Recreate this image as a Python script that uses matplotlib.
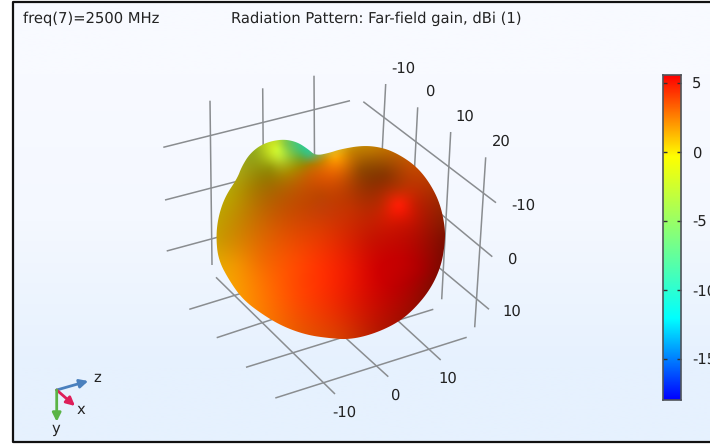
import numpy as np
import matplotlib
matplotlib.use("Agg")
import matplotlib.pyplot as plt
from matplotlib.colors import LinearSegmentedColormap
from matplotlib.patches import PathPatch
from matplotlib.path import Path

W, H = 710, 446
FS = 10.6

# colour scale, dBi
gain_min, gain_max = -18.0, 5.56
gain_ticks = [5, 0, -5, -10, -15]
rainbow = ["#0000ff", "#00ffff", "#80ff80", "#ffff00", "#ff0000"]

# box grid lines, picture pixels (x0, y0, x1, y1)
wall_left = [(210, 100.7, 212, 265), (262.7, 88.3, 264, 250), (314, 75.7, 315, 240),
             (163.3, 147.3, 350, 100.7), (165, 200, 300, 165), (166.7, 251, 300, 215)]
wall_right = [(385.7, 84, 377, 250), (417.7, 107.3, 409, 275), (450.7, 132, 441.7, 299.3),
              (485.7, 157.3, 474.7, 327.3), (363.3, 101.7, 496, 202.7),
              (400, 180, 492.3, 256.7), (400, 235, 489, 309.3)]
floor = [(216, 277.3, 335, 394), (260, 260, 388.3, 376.7), (310, 240, 440.7, 360),
         (189.3, 309.3, 330, 266), (216.7, 337.7, 380, 284),
         (246, 367.3, 433.3, 309.3), (275.3, 398, 466.7, 337.3)]

# axis numbers
box_labels = ["-10", "0", "10", "20", "-10", "0", "10", "-10", "0", "10"]
box_label_x = [403, 430, 465, 501, 523, 512, 512, 344, 395, 448]
box_label_y = [69, 92, 117, 142, 206, 260, 312, 413, 396, 379]

# silhouette of the pattern
outline_x = [237.3, 241.7, 250, 263.3, 281.7, 296.7, 308.3, 315.7, 330, 340, 363.3, 383.3,
             400, 416.7, 430, 440, 445, 445, 441, 430, 413.3, 396.7, 373.3, 350, 330,
             306.7, 283.3, 263.3, 243.3, 230, 218.3, 216, 218.3, 225]
outline_y = [178.3, 166.7, 153.3, 143.3, 139, 141.7, 149.3, 155.7, 152.7, 149.3, 145.3, 147.7,
             155, 166.7, 183.3, 203.3, 226.7, 243.3, 266.7, 290, 310, 323.3, 334, 339.5, 338.3,
             335, 326.7, 315, 300, 281.7, 260, 236.7, 216.7, 196.7]

# surface colours read at some places of the pattern
surf_x = [240, 255, 276, 277, 279, 285, 295, 308, 300, 270, 310, 335, 325, 350, 370,
          385, 385, 360, 410, 398, 415, 380, 398, 398, 440, 430, 445, 420, 400, 380,
          350, 320, 290, 260, 235, 222, 232, 250, 280, 320, 350, 370, 320, 270, 240,
          265, 300, 340, 375, 410, 350, 300, 430, 435]
surf_y = [170, 150, 143, 150, 158, 145, 150, 155, 158, 168, 165, 157, 160, 153, 150,
          150, 175, 170, 170, 205, 205, 205, 225, 188, 225, 250, 240, 270, 260, 270,
          270, 270, 260, 260, 265, 240, 200, 190, 190, 195, 210, 240, 230, 230, 290,
          315, 330, 337, 330, 305, 305, 295, 285, 190]
surf_r = [165, 150, 195, 205, 190, 130, 90, 60, 110, 150, 175, 250, 210, 200, 190,
          190, 140, 150, 190, 255, 195, 190, 205, 180, 140, 150, 125, 170, 195, 205,
          235, 255, 250, 240, 240, 205, 185, 170, 175, 190, 195, 200, 220, 215, 250,
          250, 235, 215, 185, 160, 225, 255, 135, 170]
surf_g = [165, 175, 225, 250, 225, 200, 195, 190, 170, 150, 125, 170, 140, 130, 120,
          110, 55, 75, 70, 30, 30, 40, 20, 50, 25, 10, 15, 0, 0, 0,
          25, 50, 80, 110, 150, 150, 155, 130, 100, 70, 50, 20, 60, 95, 150,
          120, 85, 60, 25, 10, 30, 70, 10, 50]
surf_b = [20, 30, 40, 50, 50, 70, 100, 130, 50, 10, 0, 10, 5, 0, 0,
          0, 0, 0, 0, 5, 0, 0, 0, 0, 0, 0, 0, 0, 0, 0,
          0, 0, 0, 0, 0, 0, 0, 0, 0, 0, 0, 0, 0, 0, 0,
          0, 0, 0, 0, 0, 0, 0, 0, 0]

# little x y z triad
triad_origin = (56.7, 390)
triad_tips = [(88.3, 381), (75, 406), (56.7, 421.7)]
triad_colors = ["#4a80be", "#de1e5a", "#5ab446"]
triad_names = ["z", "x", "y"]
triad_name_xy = [(97, 378), (81, 410), (56, 429)]


def smooth_closed(x, y, n=3):
    # corner cutting so the outline does not look like a polygon
    pts = np.column_stack([x, y])
    for i in range(n):
        nxt = np.roll(pts, -1, axis=0)
        pts = np.column_stack([0.75 * pts + 0.25 * nxt, 0.25 * pts + 0.75 * nxt]).reshape(-1, 2)
    return pts


def tps_kernel(d2):
    return 0.5 * d2 * np.log(d2 + 1e-9)


def spread_colours(xx, yy, px, py, rgb):
    # thin plate spline through the read colours, keeps the shading smooth
    n = len(px)
    d2 = (px[:, None] - px) ** 2 + (py[:, None] - py) ** 2
    P = np.column_stack([np.ones(n), px, py])
    A = np.zeros((n + 3, n + 3))
    A[:n, :n] = tps_kernel(d2) + 30.0 * np.eye(n)
    A[:n, n:] = P
    A[n:, :n] = P.T
    b = np.vstack([rgb, np.zeros((3, 3))])
    coef = np.linalg.solve(A, b)
    g2 = (xx[..., None] - px) ** 2 + (yy[..., None] - py) ** 2
    out = tps_kernel(g2) @ coef[:n]
    out += coef[n] + xx[..., None] * coef[n + 1] + yy[..., None] * coef[n + 2]
    return np.clip(out, 0, 1)


plt.rcParams["font.family"] = "DejaVu Sans"
plt.rcParams["text.hinting"] = "no_hinting"
fig = plt.figure(figsize=(W / 100, H / 100), dpi=100)
ax = fig.add_axes([0, 0, 1, 1])

# pale blue background
back = np.array([[[248, 250, 255]], [[244, 248, 255]], [[230, 241, 254]]], dtype=float) / 255
ax.imshow(back, extent=(12, W, 441, 1), aspect="auto", interpolation="bilinear", zorder=0)
ax.plot([W + 5, 12.5, 12.5, W + 5], [1.5, 1.5, 441.5, 441.5], color="#111111", lw=1.6, zorder=1)

for x0, y0, x1, y1 in wall_left + wall_right + floor:
    ax.plot([x0, x1], [y0, y1], color="#8a8d90", lw=1.1, zorder=2, solid_capstyle="butt")

for s, x, y in zip(box_labels, box_label_x, box_label_y):
    ax.text(x, y, s, ha="center", va="center", fontsize=FS, color="#222222", zorder=5)

# pattern: colours spread from the read places, clipped to the outline
xx, yy = np.meshgrid(np.arange(210.0, 451.0), np.arange(134.0, 345.0))
px = np.array(surf_x, dtype=float)
py = np.array(surf_y, dtype=float)
rgb = np.column_stack([surf_r, surf_g, surf_b]) / 255
img = spread_colours(xx, yy, px, py, rgb)
surf = ax.imshow(img, extent=(209.5, 450.5, 344.5, 133.5), aspect="auto",
                 interpolation="bilinear", zorder=3)
ax.set_xlim(0, W)
ax.set_ylim(H, 0)
ax.axis("off")
outline = smooth_closed(outline_x, outline_y)
clip = PathPatch(Path(np.vstack([outline, outline[:1]]), closed=True), transform=ax.transData,
                 fc="none", ec="none")
ax.add_patch(clip)
surf.set_clip_path(clip)

ax.text(23, 19, "freq(7)=2500 MHz", ha="left", va="center", fontsize=FS, color="#222222")
ax.text(231, 19, "Radiation Pattern: Far-field gain, dBi (1)", ha="left", va="center",
        fontsize=FS, color="#222222")

# triad
for tip, c, name, pos in zip(triad_tips, triad_colors, triad_names, triad_name_xy):
    ax.annotate("", xy=tip, xytext=triad_origin, zorder=6,
                arrowprops=dict(arrowstyle="-|>,head_width=0.25,head_length=0.5", color=c, lw=2.0,
                                shrinkA=0, shrinkB=0))
    ax.text(pos[0], pos[1], name, ha="center", va="center", fontsize=FS, color="#222222", zorder=6)

# colour bar
cax = fig.add_axes([663 / W, 1 - 400 / H, 18 / W, 325 / H])
cmap = LinearSegmentedColormap.from_list("rainbow_comsol", rainbow)
grad = np.linspace(gain_min, gain_max, 256).reshape(-1, 1)
cax.imshow(grad, extent=(0, 1, gain_min, gain_max), origin="lower", aspect="auto", cmap=cmap,
           vmin=gain_min, vmax=gain_max)
cax.set_xticks([])
cax.set_yticks(gain_ticks)
cax.yaxis.tick_right()
cax.set_yticklabels([str(t) for t in gain_ticks], fontsize=FS, color="#222222")
cax.tick_params(axis="y", direction="in", length=3, width=1, color="#333333", pad=8, right=True, left=True)
for spine in cax.spines.values():
    spine.set_color("#50545a")
    spine.set_linewidth(1.2)

fig.savefig("out.png", dpi=100)
